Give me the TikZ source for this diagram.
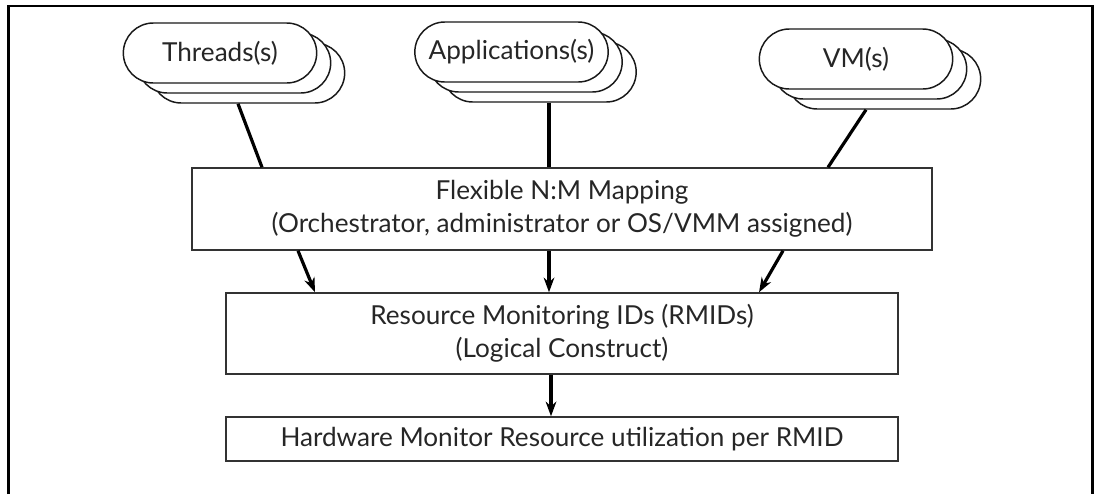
\documentclass[tikz,border=0pt]{standalone}
\usepackage{fontspec}
\setmainfont{Lato}
\usetikzlibrary{shapes.misc,calc,arrows.meta}
\begin{document}
\begin{tikzpicture}[x=0.75pt,y=-0.75pt,font=\fontsize{19.6}{25}\selectfont]
        \tikzstyle{entity}=[rounded rectangle,draw=black!90,line width=1.1pt,fill=white,minimum width=145pt,minimum height=45pt,inner sep=0pt,text=black!85]
        \tikzstyle{block}=[rectangle,draw=black!80,line width=1.1pt,align=center,inner sep=0pt,text=black!85]
        \tikzstyle{edge}=[draw, line width=2.4pt]
        \tikzstyle{arrowline}=[draw, line width=2.4pt, -{Stealth[length=11pt,width=8pt]}]
       \useasboundingbox (0,0) rectangle (1094,494);
       % frame, open at the bottom
       \draw[line width=1.6pt] (8.5,494) -- (8.5,6) -- (1092.5,6) -- (1092.5,494);
       \begin{scope}
        % stacked entities, back to front
        \node [entity] (threads3) at (248,73) {};
        \node [entity] (threads2) at (234,63) {};
        \node [entity] (threads)  at (220,53) {Threads(s)};
        \node [entity] (apps3) at (539.5,72) {};
        \node [entity] (apps2) at (525.5,62) {};
        \node [entity] (apps)  at (511.5,52) {Applications(s)};
        \node [entity] (vms3) at (884,79) {};
        \node [entity] (vms2) at (870,69) {};
        \node [entity] (vms)  at (856,59) {VM(s)};

        \node [block,minimum width=555pt,minimum height=61.5pt] (mapping) at (562,209)
              {Flexible N:M Mapping\\(Orchestrator, administrator or OS/VMM assigned)};
        \node [block,minimum width=504pt,minimum height=60.75pt] (rmid) at (562,333.5)
              {Resource Monitoring IDs (RMIDs)\\(Logical Construct)};
        \node [block,minimum width=504pt,minimum height=33pt] (hwmon) at (562,439)
              {Hardware Monitor Resource utilization per RMID};

        \path[edge] ($(threads3.south)+(-10,0)$) -- ($(mapping.north)+(-300,0)$);
        \path[edge] ($(apps3.south)+(9.5,0)$) -- ($(mapping.north)+(-13,0)$);
        \path[edge] ($(vms3.south)+(-18,0)$) -- ($(mapping.north)+(266,0)$);

        \path[arrowline] ($(mapping.south)+(-264,0)$) -- ($(rmid.north)+(-247,0)$);
        \path[arrowline] ($(mapping.south)+(-13,0)$) -- ($(rmid.north)+(-13,0)$);
        \path[arrowline] ($(mapping.south)+(221,0)$) -- ($(rmid.north)+(197,0)$);
        \path[arrowline] ($(rmid.south)+(-11,0)$) -- ($(hwmon.north)+(-11,0)$);
        \end{scope}
      \end{tikzpicture}
\end{document}
